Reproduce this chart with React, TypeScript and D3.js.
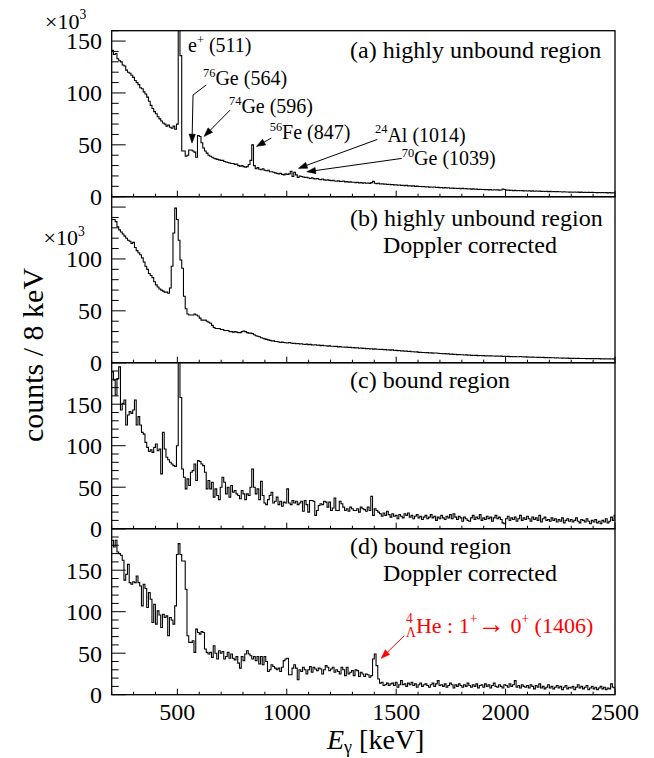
import React from "react";
import * as d3 from "d3";

// ---------------- data ----------------
const E_MIN = 200;
const E_MAX = 2500;
const BIN = 8;

// (a) highly unbound region, counts / 8 keV (x10^3)
const countsA: number[] = [
  141, 137, 138, 133, 131, 130, 127, 126, 122, 120,
  119, 117, 115, 112, 110, 108, 105, 104, 101, 99,
  96, 92, 88, 85, 82, 80, 77, 75, 73, 71,
  70, 68, 69, 67, 66, 68, 65, 70, 260, 136,
  44, 44, 39, 40, 45, 45, 44, 43, 38, 59,
  58, 52, 47, 44, 42, 40, 39, 38, 37, 36.5,
  36, 35.5, 35, 35, 34, 33.5, 33, 32.5, 32, 32,
  31, 31.5, 30, 29.5, 30, 29, 28.5, 29, 31, 35,
  50, 30, 27, 28, 26.5, 26, 27, 25.5, 25, 25.5,
  24, 24, 23.5, 23, 22.5, 22, 22.5, 21.5, 21, 22,
  21.5, 22, 24.5, 19.5, 23.5, 21, 18.5, 20.0, 19.5, 19.0,
  18.6, 18.8, 18.0, 17.6, 18.2, 17.4, 17.0, 17.5, 16.8, 16.4,
  17.1, 16.2, 15.9, 16.4, 15.7, 15.5, 15.8, 15.2, 14.9, 15.4,
  14.8, 14.6, 15.1, 14.3, 14.5, 14.0, 14.3, 13.9, 14.0, 13.6,
  13.8, 13.3, 13.7, 13.1, 13.4, 12.9, 13.2, 12.8, 13.6, 14.8,
  13.0, 12.6, 12.9, 12.3, 12.5, 12.1, 12.2, 11.8, 12.0, 11.6,
  11.8, 11.4, 11.5, 11.1, 11.3, 10.9, 11.0, 10.7, 10.9, 10.4,
  10.6, 10.2, 10.4, 10.0, 10.2, 9.8, 9.9, 9.6, 9.8, 9.4,
  9.6, 9.2, 9.4, 9.1, 9.3, 8.9, 9.0, 8.7, 8.9, 8.5,
  8.7, 8.4, 8.6, 8.2, 8.4, 8.0, 8.2, 7.9, 8.1, 7.7,
  8.0, 7.6, 7.8, 7.4, 7.6, 7.3, 7.5, 7.2, 7.3, 7.0,
  7.2, 6.9, 7.0, 6.8, 6.9, 6.6, 6.8, 6.5, 6.7, 6.4,
  6.6, 6.3, 6.5, 7.4, 6.9, 6.3, 6.4, 6.1, 6.2, 5.9,
  6.1, 5.8, 6.0, 5.7, 5.9, 5.6, 5.8, 5.5, 5.7, 5.4,
  5.6, 5.3, 5.5, 5.2, 5.4, 5.1, 5.3, 5.0, 5.2, 4.9,
  5.1, 4.8, 5.0, 4.8, 4.9, 4.7, 4.8, 4.6, 4.7, 4.5,
  4.6, 4.4, 4.6, 4.3, 4.5, 4.3, 4.4, 4.2, 4.4, 4.1,
  4.3, 4.1, 4.2, 4.0, 4.2, 4.0, 4.1, 3.9, 4.1, 3.8,
  4.0, 3.8, 3.9, 3.7, 3.9, 3.7, 3.8, 3.7,
];

// (b) highly unbound region, Doppler corrected (x10^3)
const countsB: number[] = [
  138, 138, 136, 131, 128, 126, 124, 122, 120, 118,
  117, 115, 116, 111, 108, 106, 104, 101, 97, 93,
  90, 86, 84, 82, 78, 75, 73, 71, 70, 69,
  68, 68, 67, 72, 93, 125, 149, 138, 118, 99,
  91, 64, 52, 47, 46, 46, 46, 47, 46, 45,
  43, 41, 41, 41, 40, 39, 38, 36, 34, 33,
  33, 33, 32, 32, 31, 31, 31, 30, 30, 29.5,
  30, 29.5, 29, 29, 30, 30.5, 30, 29, 28.5, 28.5,
  28, 27, 26, 25.5, 25, 24, 23.5, 23, 22.5, 22,
  21.5, 21, 21, 20.5, 20.5, 20, 19.5, 19.8, 19.5, 19.3,
  19, 19.4, 19, 18.6, 18.8, 18.3, 18.5, 18, 18.2, 17.8,
  17.6, 17.9, 17.4, 17.7, 17.2, 17.0, 17.3, 16.8, 16.9, 16.5,
  16.7, 16.3, 16.4, 16.0, 16.2, 15.8, 15.9, 15.6, 15.7, 15.3,
  15.5, 15.1, 15.2, 14.9, 15.0, 14.6, 14.8, 14.4, 14.5, 14.2,
  14.4, 14.0, 14.1, 13.8, 13.9, 13.5, 13.7, 13.3, 13.5, 13.1,
  13.3, 12.9, 13.0, 12.7, 12.8, 12.5, 12.6, 12.3, 12.4, 12.1,
  12.4, 11.8, 11.9, 11.6, 11.7, 11.3, 11.4, 11.0, 11.2, 10.8,
  10.9, 10.5, 10.6, 10.3, 10.4, 10.0, 10.1, 9.8, 9.9, 9.6,
  9.7, 9.4, 9.5, 9.2, 9.3, 9.4, 9.1, 8.8, 8.9, 8.6,
  8.7, 8.4, 8.5, 8.2, 8.3, 8.0, 8.1, 7.8, 7.9, 7.6,
  7.7, 7.4, 7.5, 7.3, 7.4, 7.1, 7.2, 7.0, 7.1, 6.8,
  6.9, 6.7, 6.8, 6.6, 6.7, 6.5, 6.6, 6.4, 6.5, 6.3,
  6.4, 6.2, 6.3, 6.1, 6.2, 6.0, 6.1, 5.9, 6.0, 5.8,
  5.9, 5.7, 5.8, 6.0, 5.7, 5.5, 5.6, 5.4, 5.5, 5.3,
  5.4, 5.2, 5.3, 5.1, 5.2, 5.0, 5.1, 4.9, 5.0, 4.8,
  4.9, 4.7, 4.8, 4.6, 4.7, 4.5, 4.6, 4.4, 4.5, 4.3,
  4.4, 4.2, 4.3, 4.2, 4.3, 4.1, 4.2, 4.0, 4.1, 4.0,
  4.1, 3.9, 4.0, 3.9, 4.0, 3.8, 3.9, 3.8, 3.9, 3.7,
  3.8, 3.7, 3.8, 3.6, 3.7, 3.6, 3.7, 3.6,
];

// (c) bound region, counts / 8 keV
const countsC: number[] = [
  189, 179, 161, 181, 195, 143, 151, 155, 125, 137,
  141, 139, 143, 155, 125, 135, 125, 116, 114, 104,
  98, 93, 95, 92, 98, 102, 94, 96, 66, 116,
  96, 86, 83, 80, 78, 76, 75, 100, 260, 158,
  72, 62, 48, 60, 52, 68, 70, 78, 58, 82,
  81, 78, 76, 68, 48, 58, 48, 56, 38, 48,
  40, 35, 50, 62, 56, 42, 50, 38, 52, 44,
  46, 42, 40, 36, 46, 42, 35, 42, 40, 50,
  72, 50, 42, 48, 35, 57, 40, 31, 29, 35,
  40, 44, 31, 33, 38, 29, 33, 27, 32, 31,
  48, 31, 29, 34, 31, 33, 29, 31, 33, 21,
  34, 29, 20, 34, 34, 33, 16, 22, 28, 30,
  29, 33, 32, 26, 32, 22, 25, 37, 22, 22,
  33, 30, 26, 22, 24, 21, 26, 24, 22, 22,
  24, 20, 26, 24, 23, 21, 26, 22, 39, 16,
  24, 22, 20, 18, 15, 19, 16, 21, 17, 14,
  18, 15, 16, 12, 17, 15, 13, 18, 16, 19,
  14, 16, 12, 15, 17, 13, 15, 11, 14, 16,
  12, 14, 17, 13, 15, 10, 14, 12, 16, 13,
  11, 15, 13, 17, 12, 18, 14, 11, 15, 13,
  9, 14, 12, 10, 9, 13, 16, 11, 14, 12,
  17, 10, 13, 11, 15, 12, 14, 9, 13, 16,
  12, 14, 11, 7, 6, 12, 15, 10, 13, 11,
  14, 9, 12, 16, 10, 13, 11, 15, 12, 9,
  14, 11, 13, 10, 16, 8, 12, 14, 10, 11,
  9, 13, 10, 12, 8, 11, 9, 13, 7, 10,
  12, 9, 11, 8, 10, 13, 9, 7, 11, 10,
  8, 12, 9, 6, 10, 8, 11, 7, 9, 6,
  10, 8, 12, 7, 9, 14, 10, 16,
];

// (d) bound region, Doppler corrected
const countsD: number[] = [
  186, 178, 186, 172, 170, 168, 162, 138, 145, 157,
  135, 133, 136, 135, 143, 135, 131, 107, 133, 128,
  105, 123, 115, 87, 109, 85, 101, 96, 81, 97,
  93, 95, 71, 93, 90, 85, 107, 169, 182, 169,
  161, 161, 127, 71, 63, 63, 65, 51, 79, 75,
  73, 76, 75, 55, 51, 49, 51, 45, 59, 50,
  43, 53, 50, 52, 43, 46, 51, 44, 49, 44,
  42, 46, 38, 32, 46, 41, 49, 53, 49, 47,
  43, 46, 41, 46, 37, 46, 36, 46, 40, 28,
  30, 36, 34, 32, 30, 32, 28, 33, 41, 43,
  44, 24, 24, 32, 36, 32, 18, 30, 28, 33,
  30, 25, 30, 34, 27, 33, 31, 29, 32, 31,
  25, 30, 35, 33, 29, 31, 33, 27, 30, 28,
  25, 33, 30, 23, 33, 25, 27, 29, 23, 30,
  29, 22, 27, 25, 22, 25, 24, 21, 23, 43,
  49, 35, 19, 14, 15, 11, 12, 14, 11, 13,
  14, 11, 15, 9, 12, 17, 12, 13, 10, 14,
  12, 15, 11, 13, 9, 12, 14, 10, 12, 13,
  11, 9, 12, 14, 10, 13, 17, 11, 12, 10,
  13, 9, 11, 14, 12, 8, 12, 10, 13, 11,
  9, 12, 10, 14, 11, 9, 12, 10, 13, 8,
  11, 12, 9, 13, 10, 12, 8, 11, 14, 10,
  9, 12, 10, 8, 12, 11, 9, 13, 10, 12,
  17, 9, 11, 8, 12, 10, 9, 11, 8, 12,
  10, 7, 11, 9, 13, 8, 10, 7, 9, 12,
  8, 10, 7, 9, 11, 8, 10, 6, 9, 11,
  7, 9, 8, 10, 6, 9, 12, 8, 10, 7,
  9, 11, 6, 8, 10, 7, 9, 6, 8, 10,
  7, 9, 6, 8, 7, 13, 9, 8,
];

const yMaxes = [160, 160, 200, 200];
const yTickLabels = [[0, 50, 100, 150], [0, 50, 100], [0, 50, 100, 150], [0, 50, 100, 150]];
const xTickLabels = [500, 1000, 1500, 2000, 2500];
const panelTitles = [
  ["(a) highly unbound region"],
  ["(b) highly unbound region", "Doppler corrected"],
  ["(c) bound region"],
  ["(d) bound region", "Doppler corrected"],
];

type Kind = "n" | "sup" | "sub" | "big";
type Part = [string, Kind, number?];

// annotations of panel (a): text anchor (E, value) and arrow polyline (E, value)
const annotationsA: { parts: Part[]; at: [number, number]; arrow: [number, number][] | null }[] = [
  { parts: [["e", "n"], ["+", "sup"], [" (511)", "n"]], at: [548.7, 139.4], arrow: null },
  { parts: [["76", "sup"], ["Ge (564)", "n"]], at: [617.3, 107.4], arrow: [[632, 107.7], [571.6, 98], [567, 51.6]] },
  { parts: [["74", "sup"], ["Ge (596)", "n"]], at: [736.1, 80.4], arrow: [[740.7, 83.4], [622, 58]] },
  { parts: [["56", "sup"], ["Fe (847)", "n"]], at: [922, 55.5], arrow: [[929.4, 56.5], [860.9, 48.4]] },
  { parts: [["24", "sup"], ["Al (1014)", "n"]], at: [1403.4, 52.9], arrow: [[1414, 55.2], [1052.8, 27.3]] },
  { parts: [["70", "sup"], ["Ge (1039)", "n"]], at: [1525.4, 30.5], arrow: [[1525.4, 36.9], [1091, 24]] },
];
const annotationD: { parts: Part[]; at: [number, number]; arrow: [number, number][] } = {
  parts: [
    ["4", "sup"],
    ["Λ", "sub", -6.8],
    ["He : 1", "n"],
    ["+", "sup"],
    ["→", "big"],
    [" 0", "n"],
    ["+", "sup"],
    [" (1406)", "n"],
  ],
  at: [1545, 74.7],
  arrow: [[1537, 71], [1431, 43.7]],
};

// ---------------- layout ----------------
const W = 654;
const H = 758;
const X0 = 111.7;
const X1 = 615;
const TOP0 = 30.7;
const PH = 166;
const FONT = '"Liberation Serif", "Times New Roman", serif';

const x = d3.scaleLinear().domain([E_MIN, E_MAX]).range([X0, X1]);

function Rich({ x, y, parts, fs, fill = "#000" }: { x: number; y: number; parts: Part[]; fs: number; fill?: string }) {
  let shift = 0;
  return (
    <text x={x} y={y} fill={fill} style={{ fontFamily: FONT, fontSize: fs }}>
      {parts.map(([t, kind, dx], i) => {
        const target = kind === "sup" ? -0.42 * fs : kind === "sub" ? 0.2 * fs : 0;
        const dy = target - shift;
        shift = target;
        const size = kind === "n" ? fs : kind === "big" ? fs * 1.25 : fs * 0.62;
        return (
          <tspan key={i} dy={dy} dx={dx ?? 0} style={{ fontSize: size }}>
            {t}
          </tspan>
        );
      })}
    </text>
  );
}

function Arrow({ pts, color, head = 9, half = 3.2 }: { pts: [number, number][]; color: string; head?: number; half?: number }) {
  const n = pts.length;
  const [tx, ty] = pts[n - 1];
  const [px, py] = pts[n - 2];
  const dx = tx - px;
  const dy = ty - py;
  const len = Math.hypot(dx, dy);
  const ux = dx / len;
  const uy = dy / len;
  const bx = tx - ux * head;
  const by = ty - uy * head;
  const tri = `M${tx},${ty}L${bx - uy * half},${by + ux * half}L${bx + uy * half},${by - ux * half}Z`;
  const shaft = d3.line()(pts.slice(0, n - 1).concat([[bx, by]]) as [number, number][]) ?? "";
  return (
    <g>
      <path d={shaft} fill="none" stroke={color} strokeWidth={1} />
      <path d={tri} fill={color} stroke={color} strokeWidth={0.5} />
    </g>
  );
}

const allCounts = [countsA, countsB, countsC, countsD];

export default function App() {
  const panels = allCounts.map((counts, p) => {
    const top = TOP0 + p * PH;
    const bottom = top + PH;
    const y = d3.scaleLinear().domain([0, yMaxes[p]]).range([bottom, top]);
    const pts: [number, number][] = counts.map((v, i) => [E_MIN + i * BIN, v]);
    pts.push([E_MIN + counts.length * BIN, counts[counts.length - 1]]);
    const line = d3
      .line<[number, number]>()
      .x((d) => x(d[0]))
      .y((d) => y(d[1]))
      .curve(d3.curveStepAfter);
    const yTicks = d3.range(0, yMaxes[p] + 1e-6, 10);
    const xTicks = d3.range(E_MIN, E_MAX + 1e-6, 100);
    return { p, top, bottom, y, path: line(pts) ?? "", yTicks, xTicks };
  });

  const yA = panels[0].y;
  const yD = panels[3].y;
  const txt = (fs: number) => ({ fontFamily: FONT, fontSize: fs });

  return (
    <svg
      width={W}
      height={H}
      viewBox={`0 0 ${W} ${H}`}
      style={{ position: "absolute", left: 0, top: 0, background: "#fff", fontFamily: FONT }}
    >
      <defs>
        {panels.map(({ p, top }) => (
          <clipPath key={p} id={`clip${p}`}>
            <rect x={X0} y={top} width={X1 - X0} height={PH} />
          </clipPath>
        ))}
      </defs>

      {panels.map(({ p, top, bottom, y, path, yTicks, xTicks }) => (
        <g key={p}>
          <path d={path} fill="none" stroke="#000" strokeWidth={1.1} clipPath={`url(#clip${p})`} />
          <rect x={X0} y={top} width={X1 - X0} height={PH} fill="none" stroke="#000" strokeWidth={1.3} />
          {yTicks.map((v) => {
            const major = v % 50 === 0;
            return <line key={v} x1={X0} x2={X0 + (major ? 14 : 7)} y1={y(v)} y2={y(v)} stroke="#000" strokeWidth={1} />;
          })}
          {xTicks.map((e) => {
            const major = e % 500 === 0;
            return <line key={e} x1={x(e)} x2={x(e)} y1={bottom} y2={bottom - (major ? 6 : 3)} stroke="#000" strokeWidth={1} />;
          })}
          {yTickLabels[p].map((v) => (
            <text key={v} x={102} y={y(v)} dy="0.35em" textAnchor="end" style={txt(24)}>
              {v}
            </text>
          ))}
          {panelTitles[p].map((t, i) => (
            <text key={i} x={i === 0 ? 350 : 383} y={[58, 226, 388, 553.5][p] + i * 27} style={txt(24)}>
              {t}
            </text>
          ))}
        </g>
      ))}

      {/* x10^3 multipliers */}
      <Rich x={45} y={28.5} fs={22} parts={[["×10", "n"], ["3", "sup"]]} />
      <Rich x={43.5} y={245} fs={22} parts={[["×10", "n"], ["3", "sup"]]} />

      {/* x tick labels */}
      {xTickLabels.map((e) => (
        <text key={e} x={x(e)} y={720} textAnchor="middle" style={txt(24)}>
          {e}
        </text>
      ))}

      {/* annotations panel (a) */}
      {annotationsA.map((a, i) => (
        <g key={i}>
          <Rich x={x(a.at[0])} y={yA(a.at[1])} fs={20} parts={a.parts} />
          {a.arrow && <Arrow pts={a.arrow.map(([e, v]) => [x(e), yA(v)] as [number, number])} color="#000" />}
        </g>
      ))}

      {/* annotation panel (d) */}
      <Rich x={x(annotationD.at[0])} y={yD(annotationD.at[1])} fs={22} fill="#ff0000" parts={annotationD.parts} />
      <Arrow pts={annotationD.arrow.map(([e, v]) => [x(e), yD(v)] as [number, number])} color="#ff0000" />

      {/* axis titles */}
      <text transform="translate(43,355) rotate(-90)" textAnchor="middle" style={txt(30)}>
        counts / 8 keV
      </text>
      <text x={327} y={749} style={txt(28)}>
        <tspan style={{ fontStyle: "italic" }}>E</tspan>
        <tspan dy={4} style={{ fontSize: 18 }}>γ</tspan>
        <tspan dy={-4}> [keV]</tspan>
      </text>
    </svg>
  );
}
